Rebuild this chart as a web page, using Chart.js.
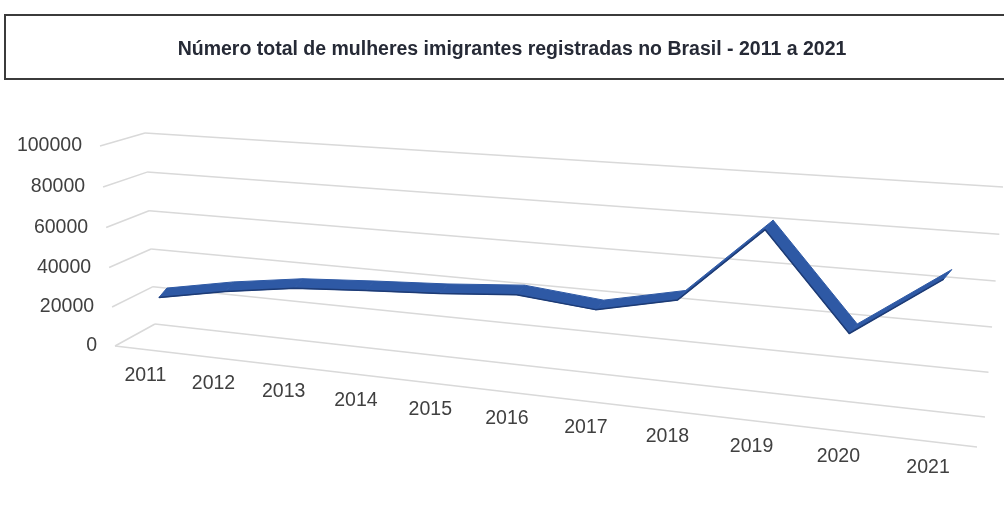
<!DOCTYPE html>
<html>
<head>
<meta charset="utf-8">
<script src="https://cdn.jsdelivr.net/npm/chart.js@4.4.0/dist/chart.umd.min.js"></script>
<style>
  html, body { margin: 0; padding: 0; background: #fff; width: 1004px; height: 513px; overflow: hidden; }
  #chart { position: absolute; left: 0; top: 0; }
  #title {
    position: absolute; left: 4px; top: 14px; width: 1016px; height: 66px;
    box-sizing: border-box; border: 2px solid #3b3b3b;
    font: bold 19.5px "Liberation Sans", Arial, sans-serif; color: #262a36;
    text-align: center; line-height: 64px;
  }
</style>
</head>
<body>
<canvas id="chart" width="1004" height="513"></canvas>
<div id="title">Número total de mulheres imigrantes registradas no Brasil - 2011 a 2021</div>
<script>
(function () {
    "use strict";
    // data
    var anos = ["2011", "2012", "2013", "2014", "2015", "2016", "2017", "2018", "2019", "2020", "2021"];
    var mulheres = [23000, 29700, 34800, 37200, 39300, 42300, 38900, 47000, 81700, 39400, 66800];
    var yTicks = [0, 20000, 40000, 60000, 80000, 100000];

    // 3D box: front plane (z=0) and back wall (z=1), corners bl, br, tr, tl
    var front = [[115, 346], [977, 447], [993, 213], [100, 146]];
    var back = [[155, 324], [985, 417], [1003, 187], [145, 133]];
    var ribbonZ = 0.35;
    var ribbonDepth = [8, -9.5];

    function quadMap(p0, p1, p2, p3) {
        var dx1 = p1[0] - p2[0], dx2 = p3[0] - p2[0], dx3 = p0[0] - p1[0] + p2[0] - p3[0];
        var dy1 = p1[1] - p2[1], dy2 = p3[1] - p2[1], dy3 = p0[1] - p1[1] + p2[1] - p3[1];
        var den = dx1 * dy2 - dx2 * dy1;
        var g = (dx3 * dy2 - dx2 * dy3) / den, h = (dx1 * dy3 - dx3 * dy1) / den;
        var a = p1[0] - p0[0] + g * p1[0], b = p3[0] - p0[0] + h * p3[0], c = p0[0];
        var d = p1[1] - p0[1] + g * p1[1], e = p3[1] - p0[1] + h * p3[1], f = p0[1];
        return function (u, v) {
            var w = g * u + h * v + 1;
            return [(a * u + b * v + c) / w, (d * u + e * v + f) / w];
        };
    }
    function plane(z) {
        var c = front.map(function (p, i) {
            return [p[0] + (back[i][0] - p[0]) * z, p[1] + (back[i][1] - p[1]) * z];
        });
        return quadMap(c[0], c[1], c[2], c[3]);
    }
    function line(ctx, a, b) {
        ctx.beginPath(); ctx.moveTo(a[0], a[1]); ctx.lineTo(b[0], b[1]); ctx.stroke();
    }

    var perspective = {
        id: "perspective",
        afterDraw: function (chart) {
            var ctx = chart.ctx, ca = chart.chartArea;
            var xs = chart.scales.x, ys = chart.scales.y;
            var toU = function (px) { return (px - ca.left) / (ca.right - ca.left); };
            var toV = function (py) { return (ca.bottom - py) / (ca.bottom - ca.top); };
            var P0 = plane(0), P1 = plane(1), Pr = plane(ribbonZ);

            ctx.save();
            // walls
            ctx.strokeStyle = "#d9d9d9";
            ctx.lineWidth = 1.5;
            yTicks.forEach(function (t) {
                var v = toV(ys.getPixelForValue(t));
                line(ctx, P0(0, v), P1(0, v));
                line(ctx, P1(0, v), P1(1, v));
            });
            line(ctx, P0(0, 0), P0(1, 0));

            // value labels
            ctx.fillStyle = "#404040";
            ctx.font = "19.5px 'Liberation Sans', Arial, sans-serif";
            ctx.textAlign = "right";
            ctx.textBaseline = "middle";
            yTicks.forEach(function (t) {
                var p = P0(0, toV(ys.getPixelForValue(t)));
                ctx.fillText(String(t), p[0] - 18, p[1]);
            });

            // category labels
            ctx.textAlign = "center";
            anos.forEach(function (lab, i) {
                var p = P0(toU(xs.getPixelForValue(i)), 0);
                ctx.fillText(lab, p[0] - 3, p[1] + 26);
            });

            // ribbon
            var meta = chart.getDatasetMeta(0);
            var pts = meta.data.map(function (el) { return Pr(toU(el.x), toV(el.y)); });
            var dx = ribbonDepth[0], dy = ribbonDepth[1];
            ctx.fillStyle = "#2e59a5";
            ctx.strokeStyle = "#2e59a5";
            ctx.lineWidth = 1;
            ctx.lineJoin = "round";
            for (var i = 0; i < pts.length - 1; i++) {
                var a = pts[i], b = pts[i + 1];
                ctx.beginPath();
                ctx.moveTo(a[0], a[1]);
                ctx.lineTo(b[0], b[1]);
                ctx.lineTo(b[0] + dx, b[1] + dy);
                ctx.lineTo(a[0] + dx, a[1] + dy);
                ctx.closePath();
                ctx.fill();
                ctx.stroke();
            }
            ctx.strokeStyle = "#1d3b75";
            ctx.lineWidth = 1.5;
            ctx.beginPath();
            pts.forEach(function (p, k) { if (k) ctx.lineTo(p[0], p[1]); else ctx.moveTo(p[0], p[1]); });
            ctx.stroke();
            ctx.restore();
        }
    };

    var ctx = document.getElementById("chart").getContext("2d");
    new Chart(ctx, {
        type: "line",
        data: {
            labels: anos,
            datasets: [{
                label: "Mulheres imigrantes",
                data: mulheres,
                borderWidth: 0,
                borderColor: "rgba(0,0,0,0)",
                pointRadius: 0
            }]
        },
        options: {
            responsive: false,
            animation: false,
            events: [],
            layout: { padding: 0 },
            plugins: { legend: { display: false }, tooltip: { enabled: false } },
            scales: {
                x: { type: "category", offset: true, grid: { display: false }, border: { display: false }, ticks: { display: false } },
                y: { min: 0, max: yTicks[yTicks.length - 1], grid: { display: false }, border: { display: false },
                     ticks: { display: false, stepSize: yTicks[1] - yTicks[0] } }
            }
        },
        plugins: [perspective]
    });
})();
</script>
</body>
</html>
